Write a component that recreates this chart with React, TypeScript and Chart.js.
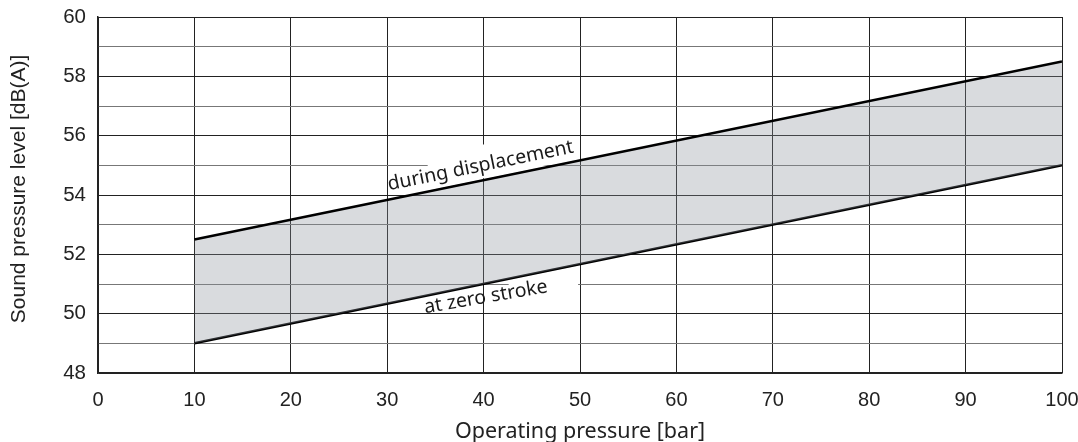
import React, { useEffect, useRef } from "react";
import { Chart, registerables } from "chart.js";

Chart.register(...registerables);

const pressure = [10, 100];
const duringDisplacement = [52.5, 58.5];
const atZeroStroke = [49, 55];
const seriesLabels = ["during displacement", "at zero stroke"];
const xTitle = "Operating pressure [bar]";
const yTitle = "Sound pressure level [dB(A)]";

const lineAt = (vals: number[], xv: number) =>
  vals[0] + ((vals[1] - vals[0]) * (xv - pressure[0])) / (pressure[1] - pressure[0]);

const lineLabelPlugin = {
  id: "lineLabels",
  afterDraw(chart: any) {
    const ctx = chart.ctx;
    const xs = chart.scales.x;
    const ys = chart.scales.y;
    const P = (x: number, y: number) => [xs.getPixelForValue(x), ys.getPixelForValue(y)];

    // white patches behind the labels (gridlines are broken there)
    ctx.save();
    ctx.fillStyle = "#ffffff";
    {
      const xa = 34.2, xb = 49.8, top = 55.7;
      const [ax, ay] = P(xa, top);
      const [bx] = P(xb, top);
      const [, la] = P(xa, lineAt(duringDisplacement, xa));
      const [, lb] = P(xb, lineAt(duringDisplacement, xb));
      ctx.beginPath();
      ctx.moveTo(ax, ay);
      ctx.lineTo(bx, ay);
      ctx.lineTo(bx, lb - 2);
      ctx.lineTo(ax, la - 2);
      ctx.closePath();
      ctx.fill();
    }
    {
      const xa = 42.6, xb = 49.8, bot = 50.75;
      const [ax, ay] = P(xa, bot);
      const [bx] = P(xb, bot);
      const [, la] = P(xa, lineAt(atZeroStroke, xa));
      const [, lb] = P(xb, lineAt(atZeroStroke, xb));
      ctx.beginPath();
      ctx.moveTo(ax, ay);
      ctx.lineTo(bx, ay);
      ctx.lineTo(bx, lb + 2);
      ctx.lineTo(ax, la + 2);
      ctx.closePath();
      ctx.fill();
    }
    ctx.restore();

    const draw = (vals: number[], text: string, above: boolean) => {
      const [x0, y0] = P(pressure[0], vals[0]);
      const [x1, y1] = P(pressure[1], vals[1]);
      const ang = Math.atan2(y1 - y0, x1 - x0);
      const xv = 40;
      const [px, py] = P(xv, lineAt(vals, xv));
      ctx.save();
      ctx.translate(px, py);
      ctx.rotate(above ? ang : ang * 0.84);
      ctx.font = '19.5px "Noto Sans"';
      ctx.fillStyle = "#1a1a1a";
      ctx.textAlign = "center";
      ctx.textBaseline = "alphabetic";
      ctx.fillText(text, 0, above ? -9 : 19);
      ctx.restore();
    };
    draw(duringDisplacement, seriesLabels[0], true);
    draw(atZeroStroke, seriesLabels[1], false);

    // y axis title
    ctx.save();
    ctx.translate(19, (chart.chartArea.top + chart.chartArea.bottom) / 2 - 6);
    ctx.rotate(-Math.PI / 2);
    ctx.font = '21px "Liberation Sans"';
    ctx.fillStyle = "#222";
    ctx.textAlign = "center";
    ctx.textBaseline = "middle";
    ctx.fillText(yTitle, 0, 0);
    ctx.restore();
  },
};

export default function App() {
  const ref = useRef<HTMLCanvasElement>(null);
  useEffect(() => {
    document.body.style.margin = "0";
    const toPts = (vals: number[]) => pressure.map((x, i) => ({ x, y: vals[i] }));
    const chart = new Chart(ref.current!, {
      type: "line",
      data: {
        datasets: [
          {
            label: seriesLabels[0],
            data: toPts(duringDisplacement),
            borderColor: "#000000",
            borderWidth: 2.5,
            pointRadius: 0,
            fill: "+1",
            backgroundColor: "rgba(140,145,155,0.33)",
          },
          {
            label: seriesLabels[1],
            data: toPts(atZeroStroke),
            borderColor: "#000000",
            borderWidth: 2.5,
            pointRadius: 0,
            fill: false,
          },
        ],
      },
      plugins: [lineLabelPlugin],
      options: {
        animation: false,
        responsive: false,
        layout: { padding: { left: 0, right: 16, top: 17, bottom: 0 } },
        plugins: { legend: { display: false }, tooltip: { enabled: false } },
        scales: {
          x: {
            type: "linear",
            min: 0,
            max: 100,
            afterFit: (s: any) => {
              s.height = 69;
              s.paddingLeft = 0;
              s.paddingRight = 0;
            },
            ticks: {
              stepSize: 10,
              color: "#222",
              font: { family: "Liberation Sans", size: 20 },
              padding: 15,
            },
            grid: { color: "#222", lineWidth: 1, drawTicks: false },
            border: { color: "#222", width: 1.5 },
            title: {
              display: true,
              text: xTitle,
              color: "#222",
              font: { family: "Noto Sans", size: 21.5 },
              padding: { top: 0, bottom: -3 },
            },
          },
          y: {
            type: "linear",
            min: 48,
            max: 60,
            afterFit: (s: any) => {
              s.width = 98;
              s.paddingTop = 0;
              s.paddingBottom = 0;
            },
            ticks: {
              stepSize: 1,
              autoSkip: false,
              color: "#222",
              font: { family: "Liberation Sans", size: 20.5 },
              padding: 12,
              callback: (v: any) => (Number(v) % 2 === 0 ? String(v) : ""),
            },
            grid: {
              color: (c: any) => (c.tick && c.tick.value % 2 === 0 ? "#222" : "#777"),
              lineWidth: 1,
              drawTicks: false,
            },
            border: { color: "#222", width: 1.5 },
            title: { display: false, text: yTitle },
          },
        },
      },
    });
    return () => chart.destroy();
  }, []);
  return (
    <div style={{ width: 1078, height: 442, background: "#fff" }}>
      <canvas ref={ref} width={1078} height={442} style={{ display: "block" }} />
    </div>
  );
}
